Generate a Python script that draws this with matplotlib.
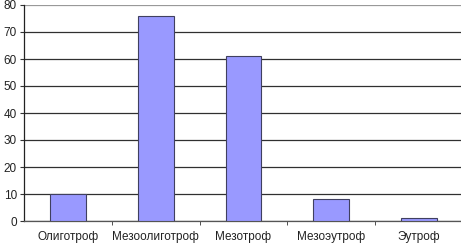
import matplotlib
matplotlib.use("Agg")
import matplotlib.pyplot as plt
import numpy as np

categories = ["Олиготроф", "Мезоолиготроф", "Мезотроф", "Мезоэутроф", "Эутроф"]
values = [10, 76, 61, 8, 1]
yticks = [0, 10, 20, 30, 40, 50, 60, 70, 80]

plt.rcParams['font.family'] = ['Liberation Sans', 'DejaVu Sans']

fig = plt.figure(figsize=(4.61, 2.45), dpi=100)
ax = fig.add_axes([24/461, 24/245, 439/461, 216/245])

x = np.arange(len(categories))
ax.bar(x, values, width=0.41, color="#9999FF", edgecolor="#404060", linewidth=0.8, zorder=3)

ax.set_xlim(-0.5, len(categories) - 0.5)
ax.set_ylim(0, 80)
ax.set_yticks(yticks)
ax.set_yticklabels([str(t) for t in yticks], fontsize=8.5, color="#222222")
ax.yaxis.grid(True, color="#303030", linewidth=0.9, zorder=0)
ax.set_axisbelow(True)
ax.yaxis.get_gridlines()[-1].set_color("#999999")

ax.set_xticks(x)
ax.set_xticklabels(categories, fontsize=8.5, color="#222222")
ax.tick_params(axis='x', length=0, pad=7)
ax.set_xticks(np.arange(len(categories)) + 0.5, minor=True)
ax.tick_params(axis='x', which='minor', length=3, color="#333333", direction='out')
ax.tick_params(axis='y', length=3, color="#333333", direction='out', pad=2)

for s in ["top", "right"]:
    ax.spines[s].set_visible(False)
ax.spines["left"].set_color("#222222")
ax.spines["bottom"].set_color("#555555")
ax.spines["left"].set_linewidth(0.9)
ax.spines["bottom"].set_linewidth(0.9)

fig.savefig("out.png", dpi=100)
